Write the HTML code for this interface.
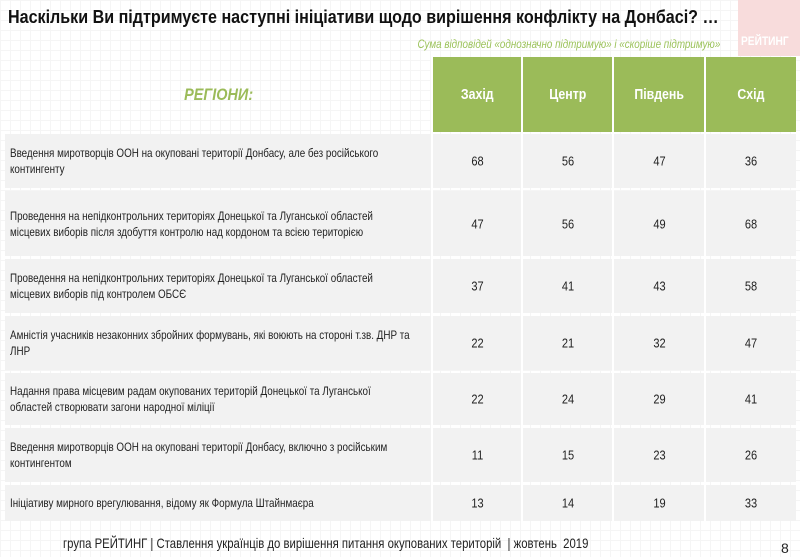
<!DOCTYPE html>
<html><head><meta charset="utf-8"><style>
*{margin:0;padding:0;box-sizing:border-box}
body{width:800px;height:557px;background:#fff;font-family:"Liberation Sans",Arial,sans-serif;position:relative;overflow:hidden;color:#222;
background-image:linear-gradient(#f5f5f5 1px,transparent 1px),linear-gradient(90deg,#f5f5f5 1px,transparent 1px);background-size:10px 10px}
.t{position:absolute;left:8px;top:6px;font-size:18.5px;font-weight:bold;color:#111;transform:scaleX(.87);transform-origin:left;white-space:nowrap}
.logo{position:absolute;left:738px;top:0;width:62px;height:56px;background:#f8dcdc}
.logo span{position:absolute;left:3px;top:34px;color:#fff;font-weight:bold;font-size:12px;transform:scaleX(.85);transform-origin:left;white-space:nowrap}
.sub{position:absolute;right:80px;top:37px;font-size:12px;font-style:italic;color:#9bc25a;transform:scaleX(.82);transform-origin:right;white-space:nowrap}
.h{position:absolute;top:57px;height:75px;background:#9bbb59;color:#fff;font-weight:bold;font-size:14.5px;display:flex;align-items:center;justify-content:center}
.h span,.reg span{display:inline-block;transform:scaleX(.85)}
.reg{position:absolute;left:5px;top:57px;width:427px;height:75px;display:flex;align-items:center;justify-content:center;color:#9bbb59;font-weight:bold;font-style:italic;font-size:17px}
.r{position:absolute;left:5px;width:791px;background:#f2f2f2}
.r .l{position:absolute;left:5px;top:50%;transform:translateY(-50%) scaleX(.82);transform-origin:left;font-size:12px;line-height:16px;width:490px;color:#222}
.r .v{position:absolute;top:50%;transform:translateY(-50%) scaleX(.85);font-size:13px;text-align:center}
.sep{position:absolute;top:57px;width:2px;height:465px;background:#fff}
.f{position:absolute;left:63px;top:535px;font-size:14px;color:#222;white-space:nowrap;transform:scaleX(.81);transform-origin:left}
.n{position:absolute;left:781px;top:540px;font-size:14px}
</style></head><body>
<div class="t">Наскільки Ви підтримуєте наступні ініціативи щодо вирішення конфлікту на Донбасі? …</div>
<div class="logo"><span>РЕЙТИНГ</span></div>
<div class="sub">Сума відповідей «однозначно підтримую» і «скоріше підтримую»</div>
<div class="reg"><span>РЕГІОНИ:</span></div>
<div class="h" style="left:433px;width:89px"><span>Захід</span></div>
<div class="h" style="left:523px;width:90px"><span>Центр</span></div>
<div class="h" style="left:614px;width:91px"><span>Південь</span></div>
<div class="h" style="left:706px;width:90px"><span>Схід</span></div>

<div class="r" style="top:134px;height:54px"><div class="l">Введення миротворців ООН на окуповані території Донбасу, але без російського контингенту</div><div class="v" style="left:428px;width:89px">68</div><div class="v" style="left:518px;width:90px">56</div><div class="v" style="left:609px;width:91px">47</div><div class="v" style="left:701px;width:90px">36</div></div>
<div class="r" style="top:191px;height:65px"><div class="l">Проведення на непідконтрольних територіях Донецької та Луганської областей місцевих виборів після здобуття контролю над кордоном та всією територією</div><div class="v" style="left:428px;width:89px">47</div><div class="v" style="left:518px;width:90px">56</div><div class="v" style="left:609px;width:91px">49</div><div class="v" style="left:701px;width:90px">68</div></div>
<div class="r" style="top:259px;height:54px"><div class="l">Проведення на непідконтрольних територіях Донецької та Луганської областей місцевих виборів під контролем ОБСЄ</div><div class="v" style="left:428px;width:89px">37</div><div class="v" style="left:518px;width:90px">41</div><div class="v" style="left:609px;width:91px">43</div><div class="v" style="left:701px;width:90px">58</div></div>
<div class="r" style="top:316px;height:54px"><div class="l">Амністія учасників незаконних збройних формувань, які воюють на стороні т.зв. ДНР та ЛНР</div><div class="v" style="left:428px;width:89px">22</div><div class="v" style="left:518px;width:90px">21</div><div class="v" style="left:609px;width:91px">32</div><div class="v" style="left:701px;width:90px">47</div></div>
<div class="r" style="top:373px;height:52px"><div class="l">Надання права місцевим радам окупованих територій Донецької та Луганської областей створювати загони народної міліції</div><div class="v" style="left:428px;width:89px">22</div><div class="v" style="left:518px;width:90px">24</div><div class="v" style="left:609px;width:91px">29</div><div class="v" style="left:701px;width:90px">41</div></div>
<div class="r" style="top:428px;height:54px"><div class="l">Введення миротворців ООН на окуповані території Донбасу, включно з російським контингентом</div><div class="v" style="left:428px;width:89px">11</div><div class="v" style="left:518px;width:90px">15</div><div class="v" style="left:609px;width:91px">23</div><div class="v" style="left:701px;width:90px">26</div></div>
<div class="r" style="top:485px;height:36px"><div class="l">Ініціативу мирного врегулювання, відому як Формула Штайнмаєра</div><div class="v" style="left:428px;width:89px">13</div><div class="v" style="left:518px;width:90px">14</div><div class="v" style="left:609px;width:91px">19</div><div class="v" style="left:701px;width:90px">33</div></div>
<div class="sep" style="left:431px"></div><div class="sep" style="left:521px"></div><div class="sep" style="left:612px"></div><div class="sep" style="left:704px"></div>
<div class="f">група РЕЙТИНГ | Ставлення українців до вирішення питання окупованих територій &nbsp;| жовтень &nbsp;2019</div>
<div class="n">8</div>
</body></html>
